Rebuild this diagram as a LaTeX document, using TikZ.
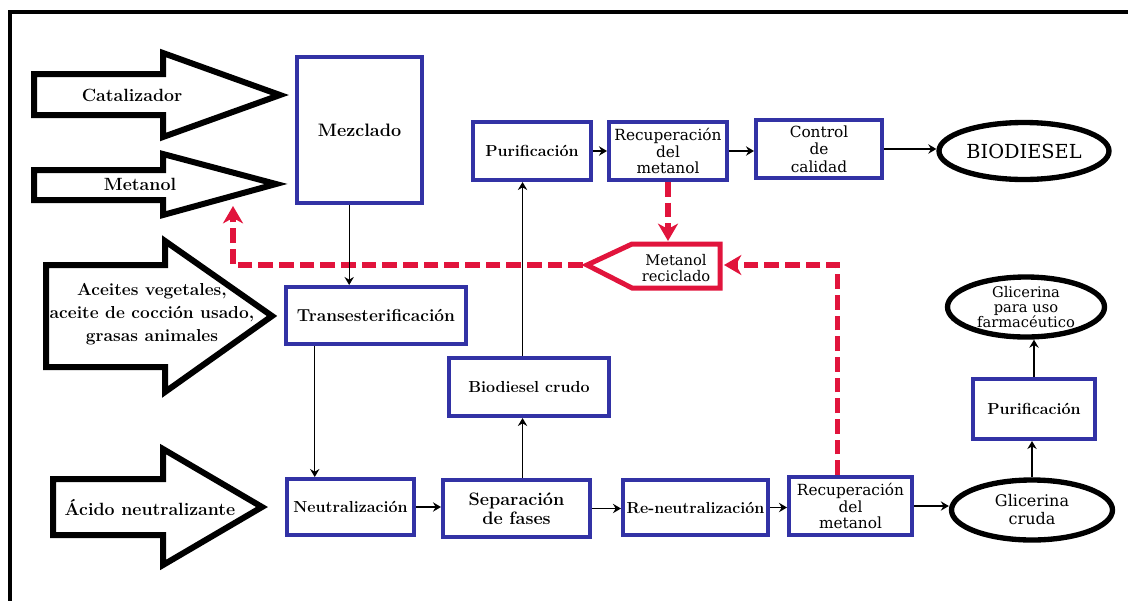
\documentclass[tikz,border=0pt]{standalone}
\usepackage{fontspec}
\newfontfamily\dvs{DejaVu Serif}
\usetikzlibrary{arrows.meta,calc,shapes.geometric}
\definecolor{bblue}{RGB}{50,50,165}
\definecolor{rred}{RGB}{225,20,60}
\newcommand\mkbox[7][]{\node[bluebox,#1,minimum width={(#4-#2)*0.75pt},minimum height={(#5-#3)*0.75pt}] (#6) at ({(#2+#4)/2},{(#3+#5)/2}) {#7};}
\begin{document}
\begin{tikzpicture}[x=0.75pt,y=-0.75pt,
  bigarrow/.style={draw=black,line width=4.5pt,line join=miter,fill=white},
  bigtext/.style={align=center,inner sep=0pt,font=\fontsize{13.3}{17}\selectfont\bfseries},
  bluebox/.style={draw=bblue,line width=3pt,fill=white,inner sep=0pt,align=center,font=\fontsize{12}{14}\selectfont\bfseries},
  lighttext/.style={font=\dvs\fontsize{11.5}{12.5}\selectfont},
  bigtxt/.style={font=\fontsize{13.5}{14.5}\selectfont\bfseries},
  oval/.style={ellipse,draw=black,line width=4pt,fill=white,inner sep=0pt,align=center},
  arr/.style={-{Stealth[length=6pt,width=7pt,inset=2pt]},line width=1pt,black},
  rdash/.style={draw=rred,line width=4pt,dash pattern=on 11pt off 4.5pt,line join=miter},
  rarr/.style={-{Stealth[length=13pt,width=15pt,inset=4pt]}},
  pent/.style={draw=rred,line width=3.75pt,line join=miter,fill=white}]
\useasboundingbox (0,0) rectangle (1128,601);
% frame
\draw[line width=3.5pt,line join=miter] (1128,12) -- (10,12) -- (10,601);

% big input arrows
\draw[bigarrow] (34,74) -- (163,74) -- (163,53) -- (280,95) -- (163,137) -- (163,115) -- (34,115) -- cycle;
\draw[bigarrow] (34,170) -- (163,170) -- (163,154) -- (276,184) -- (163,215) -- (163,200) -- (34,200) -- cycle;
\draw[bigarrow] (46,265) -- (165,265) -- (165,241) -- (272,316) -- (165,392) -- (165,367) -- (46,367) -- cycle;
\draw[bigarrow] (53,479) -- (163,479) -- (163,449) -- (262,507) -- (163,565) -- (163,535) -- (53,535) -- cycle;
\node[bigtext] (tcat) at (132,95) {Catalizador};
\node[bigtext] (tmet) at (140,184) {Metanol};
\node[bigtext,font=\fontsize{13}{17}\selectfont\bfseries] (tace) at (152,314) {Aceites vegetales,\\aceite de cocción usado,\\grasas animales};
\node[bigtext] (taci) at (150,507) {Ácido neutralizante};

% blue boxes
\mkbox[bigtxt]{297}{57}{422}{203}{mezc}{Mezclado}
\mkbox[bigtxt,font=\fontsize{13}{14.5}\selectfont\bfseries]{286}{287}{466}{344}{trans}{Transesterificación}
\mkbox{287}{479}{414}{535}{neut}{Neutralización}
\mkbox[bigtxt]{443}{480}{590}{537}{sep}{Separación\\de fases}
\mkbox{449}{358}{609}{416}{bcr}{Biodiesel crudo}
\mkbox{473}{122}{591}{180}{pur}{Purificación}
\mkbox[lighttext]{609}{122}{727}{180}{rect}{Recuperación\\del\\metanol}
\mkbox[lighttext,font=\dvs\fontsize{11.5}{13}\selectfont]{756}{120}{882}{178}{ctrl}{Control\\de\\calidad}
\mkbox{623}{480}{768}{535}{reneut}{Re-neutralización}
\mkbox[lighttext]{789}{477}{912}{535}{recb}{Recuperación\\del\\metanol}
\mkbox{973}{379}{1095}{439}{pr}{Purificación}

% ovals
\node[oval,minimum width={170*0.75pt},minimum height={57*0.75pt},font=\dvs\fontsize{14.5}{16}\selectfont] (biod) at (1024,151) {BIODIESEL};
\node[oval,minimum width={157*0.75pt},minimum height={60*0.75pt},font=\dvs\fontsize{11}{11.25}\selectfont] (gf) at (1026,307) {Glicerina\\para uso\\farmacéutico};
\node[oval,minimum width={161*0.75pt},minimum height={60*0.75pt},font=\dvs\fontsize{12}{13.5}\selectfont] (glc) at (1032,510) {Glicerina\\cruda};

% recycled methanol
\coordinate (ptip) at (583,265);
\coordinate (pentN) at (668,241);
\coordinate (pentE) at (724,265);
\coordinate (rc) at (233,265);
\coordinate (rend) at (233,206);
\coordinate (r1) at ($(recb.north west)!0.40!(recb.north east)$);
\draw[rdash,rarr] (rect.south) -- (pentN);
\draw[rdash,rarr] (r1) -- (r1 |- pentE) -- (pentE);
\draw[rdash,rarr] (ptip) -- (rc) -- (rend);
\draw[pent] (587,265) -- (632,244) -- (720,244) -- (720,288) -- (632,288) -- cycle;
\node[align=center,inner sep=0pt,font=\dvs\fontsize{11}{12}\selectfont] (metrec) at (676,268) {Metanol\\reciclado};

% black connectors
\coordinate (a1) at ($(mezc.south west)!0.42!(mezc.south east)$);
\draw[arr] (a1) -- (a1 |- trans.north);
\coordinate (a2) at ($(trans.south west)!0.167!(trans.south east)$);
\draw[arr] (a2) -- (a2 |- neut.north);
\draw[arr] (neut.east) -- (neut.east -| sep.west);
\coordinate (a3) at ($(sep.north west)!0.54!(sep.north east)$);
\draw[arr] (a3) -- (a3 |- bcr.south);
\draw[arr] (a3 |- bcr.north) -- (a3 |- pur.south);
\draw[arr] (sep.east) -- (sep.east -| reneut.west);
\draw[arr] (reneut.east) -- (reneut.east -| recb.west);
\draw[arr] (recb.east) -- (recb.east -| glc.west);
\draw[arr] (glc.north) -- (glc.north |- pr.south);
\draw[arr] (pr.north) -- (pr.north |- gf.south);
\draw[arr] (pur.east) -- (pur.east -| rect.west);
\draw[arr] (rect.east) -- (rect.east -| ctrl.west);
\draw[arr] (ctrl.east) -- (ctrl.east -| biod.west);
\end{tikzpicture}
\end{document}
